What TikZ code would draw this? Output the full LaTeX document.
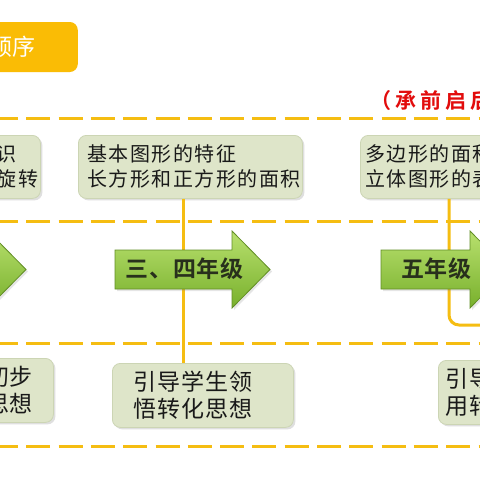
\documentclass[tikz,border=0pt]{standalone}
\usepackage{fontspec}
\usepackage{xcolor}
\usetikzlibrary{shadows}

\newfontfamily\kaitop[LetterSpace=7.5]{Noto Sans CJK SC}
\newfontfamily\kaibot[LetterSpace=4]{Noto Sans CJK SC}
\newfontfamily\kaired[LetterSpace=19]{Noto Sans CJK SC Bold}
\newfontfamily\kaititle{Noto Sans CJK SC}
\newfontfamily\heiti[LetterSpace=4]{Noto Sans CJK SC Bold}

\definecolor{gold}{RGB}{245,189,18}
\definecolor{titlegold}{RGB}{250,188,5}
\definecolor{sage}{RGB}{222,229,201}
\definecolor{sageline}{RGB}{204,213,180}
\definecolor{leafhi}{RGB}{184,224,110}
\definecolor{leaflo}{RGB}{120,176,44}
\definecolor{leafline}{RGB}{98,142,38}
\definecolor{inkdark}{RGB}{40,48,28}
\definecolor{stampred}{RGB}{226,12,12}

\begin{document}
\begin{tikzpicture}[x=1pt,y=-1pt,
  goldline/.style={draw=gold,line width=3pt},
  dashline/.style={goldline,dash pattern=on 24pt off 8.3pt},
  titlebox/.style={fill=titlegold,rounded corners=8pt,minimum height=50pt,
    inner xsep=42pt,text=white,font=\kaititle\fontsize{23}{23}\selectfont},
  infobox/.style={draw=sageline,fill=sage,rounded corners=8pt,line width=0.8pt,
    drop shadow={shadow xshift=2pt,shadow yshift=-2pt,opacity=0.25},
    anchor=north west,inner ysep=0pt,align=left,text=black!90},
  knowbox/.style={infobox,minimum height=63pt,font=\kaitop\fontsize{20}{25}\selectfont},
  ideabox/.style={infobox,minimum height=64pt,font=\kaibot\fontsize{23}{27}\selectfont},
  leafarrow/.style={top color=leafhi,bottom color=leaflo,draw=leafline,line width=0.8pt,
    drop shadow={shadow xshift=2pt,shadow yshift=-2pt,opacity=0.2}},
  arrowtext/.style={text=inkdark,font=\heiti\fontsize{23}{23}\selectfont}]

  \fill[white] (0,0) rectangle (480,480);
  \useasboundingbox (0,0) rectangle (480,480);

  % dashed guide rows
  \foreach \yy in {118,221,343,446}
    \draw[dashline] (-6,\yy) -- (495,\yy);

  \node[titlebox,anchor=east] (title) at (78,47) {顺序};
  \node[anchor=west,inner sep=0pt,text=stampred,
    font=\kaired\fontsize{21}{21}\selectfont] (motto) at (370,101) {（承前启后）};

  % knowledge boxes (top) and idea boxes (bottom)
  \node[knowbox,text width=108pt,inner xsep=0pt] (know12) at (-68,135) {初步认识\\平移和旋转};
  \node[knowbox,text width=206pt,inner xsep=9pt] (know34) at (78,135) {基本图形的特征\\长方形和正方形的面积};
  \node[knowbox,text width=250pt,inner xsep=5pt] (know5) at (360,135) {多边形的面积\\立体图形的表面积};
  \node[ideabox,text width=143pt,inner xsep=20pt] (idea12) at (-130,358) {引导学生初步\\感悟转化思想};
  \node[ideabox,text width=139pt,inner xsep=21pt] (idea34) at (112,363) {引导学生领\\悟转化思想};
  \node[ideabox,text width=200pt,inner xsep=7pt] (idea5) at (438,360) {引导学生运\\用转化思想};

  % connectors
  \coordinate (stem34) at (183,0);
  \coordinate (turn5) at (449,325);
  \coordinate (exit5) at (495,325);
  \draw[goldline] (know34.south -| stem34) -- (idea34.north -| stem34);
  \draw[goldline,rounded corners=10pt] (know5.south -| turn5) -- (turn5) -- (exit5);

  % grade arrows
  \foreach \name/\xa/\xb/\lbl in {grade12/-130/-12/{},grade34/115/232/{三、四年级},grade5/381/470/{五年级}}{
    \draw[leafarrow] (\xa,250) -- (\xb,250) -- (\xb,231) -- (\xb+38,269.5)
      -- (\xb,308) -- (\xb,289) -- (\xa,289) -- cycle;
    \node[arrowtext] (\name) at ({(\xa+\xb)/2+11},269) {\lbl};
  }
\end{tikzpicture}
\end{document}
